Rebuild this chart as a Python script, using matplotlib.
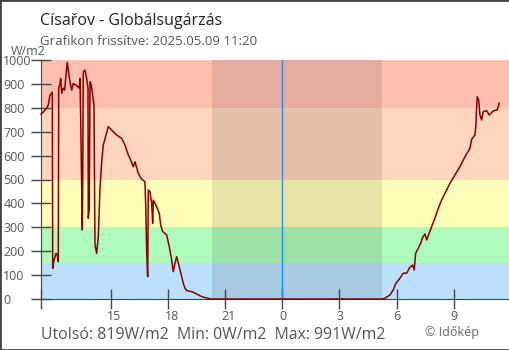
import matplotlib
matplotlib.use("Agg")
import matplotlib.pyplot as plt
import matplotlib.transforms as mtransforms
from matplotlib.patches import Rectangle

plt.rcParams['font.family'] = ['Open Sans', 'DejaVu Sans']

# time in hours from midnight of the first day (24 = midnight, 35 = 11:00 next day)
hours = [11.345, 11.644, 11.728, 11.817, 11.938, 11.959, 12.011, 12.132, 12.200, 12.252,
         12.273, 12.341, 12.378, 12.431, 12.514, 12.588, 12.656, 12.724, 12.777, 12.866,
         12.955, 13.039, 13.217, 13.354, 13.390, 13.427, 13.480, 13.511, 13.532, 13.563,
         13.652, 13.741, 13.810, 13.825, 13.878, 13.915, 13.983, 14.056, 14.124, 14.177,
         14.266, 14.350, 14.439, 14.528, 14.612, 14.754, 14.874, 15.052, 15.315, 15.577,
         15.750, 15.923, 16.012, 16.185, 16.274, 16.447, 16.626, 16.799, 16.836, 16.888,
         16.940, 16.972, 17.061, 17.150, 17.202, 17.234, 17.412, 17.548, 17.622, 17.727,
         17.937, 18.073, 18.199, 18.283, 18.372, 18.460, 18.597, 18.723, 18.807, 18.896,
         18.985, 19.248, 19.510, 19.772, 20.118, 20.244,
         29.211, 29.384, 29.646, 29.819, 29.961, 30.171, 30.344, 30.522, 30.695, 30.837,
         30.920, 30.994, 31.130, 31.256, 31.361, 31.482, 31.571, 31.691, 31.833, 32.006,
         32.179, 32.357, 32.530, 32.793, 33.055, 33.317, 33.579, 33.844, 33.930, 34.104,
         34.156, 34.193, 34.224, 34.298, 34.366, 34.455, 34.539, 34.717, 34.853, 35.063,
         35.273, 35.378]
radiation = [773, 798, 812, 853, 865, 128, 156, 191, 184, 156,
             882, 902, 923, 861, 882, 874, 937, 991, 958, 909,
             874, 902, 893, 882, 923, 756, 449, 289, 463, 951,
             958, 923, 882, 338, 379, 909, 895, 853, 812, 226,
             191, 261, 463, 574, 644, 686, 721, 707, 686, 672,
             644, 603, 589, 554, 574, 526, 501, 491, 393, 198,
             93, 456, 449, 400, 317, 414, 386, 359, 310, 282,
             268, 219, 163, 114, 149, 177, 135, 93, 66, 45,
             35, 31, 21, 10, 3, 0,
             0, 3, 17, 38, 66, 87, 108, 108, 133, 142,
             121, 191, 212, 233, 258, 272, 247, 272, 303, 338,
             379, 414, 442, 484, 519, 554, 595, 631, 668, 686,
             728, 805, 846, 833, 770, 749, 784, 788, 770, 787,
             791, 819]

band_limits = [0, 150, 300, 500, 800, 1000]
band_colors = ['#bbe0fb', '#aefbbb', '#fffdb8', '#fed5bd', '#ffbfb0']
night = (20.31, 29.23)
tick_hours = [15, 18, 21, 24, 27, 30, 33]
tick_labels = ['15', '18', '21', '0', '3', '6', '9']

fig = plt.figure(figsize=(5.1, 3.5), dpi=100)
ax = fig.add_axes([40.7 / 510, 51 / 350, 468.3 / 510, 239 / 350])

for i in range(len(band_colors)):
    ax.axhspan(band_limits[i], band_limits[i + 1], color=band_colors[i], lw=0, zorder=0)
ax.axvspan(night[0], night[1], color='black', alpha=0.1, lw=0, zorder=1)
ax.axvline(24, color='#2a8de0', lw=1, zorder=2)

ax.plot(hours, radiation, color='#880000', lw=1.1, zorder=5, clip_on=False)

ax.set_xlim(11.33, 35.89)
ax.set_ylim(0, 1000)

ax.set_xticks([11.33] + tick_hours)
ax.set_xticklabels([''] + tick_labels)
ax.set_yticks(range(0, 1001, 100))

for s in ['top', 'right']:
    ax.spines[s].set_visible(False)
for s in ['left', 'bottom']:
    ax.spines[s].set_color('#444444')
    ax.spines[s].set_zorder(4)

ax.tick_params(axis='both', direction='inout', length=14, width=1, color='#444444',
               labelcolor='#555555', labelsize=9)
ax.tick_params(axis='x', pad=1)
ax.tick_params(axis='y', pad=20)

off = mtransforms.ScaledTranslation(-3.4 / 100, 0, fig.dpi_scale_trans)
for lab in ax.get_xticklabels():
    lab.set_ha('left')
    lab.set_transform(lab.get_transform() + off)
for lab in ax.get_yticklabels():
    lab.set_ha('left')

fig.text(40 / 510, 1 - 25 / 350, 'Císařov - Globálsugárzás', fontsize=11.5, color='#222222', va='baseline')
fig.text(40 / 510, 1 - 45 / 350, 'Grafikon frissítve: 2025.05.09 11:20', fontsize=9.5, color='#555555', va='baseline')
fig.text(11 / 510, 1 - 55 / 350, 'W/m2', fontsize=9, color='#555555', va='baseline')
fig.text(41 / 510, 11 / 350, 'Utolsó: 819W/m2  Min: 0W/m2  Max: 991W/m2', fontsize=11.4, color='#555555', va='baseline')
fig.text(425 / 510, 14.3 / 350, '© Időkép', fontsize=9, color='#666666', va='baseline')

fig.patches.append(Rectangle((0, 0), 1, 1, transform=fig.transFigure, fill=False,
                             edgecolor='#444444', lw=2, zorder=10))

fig.savefig('out.png', dpi=100)
